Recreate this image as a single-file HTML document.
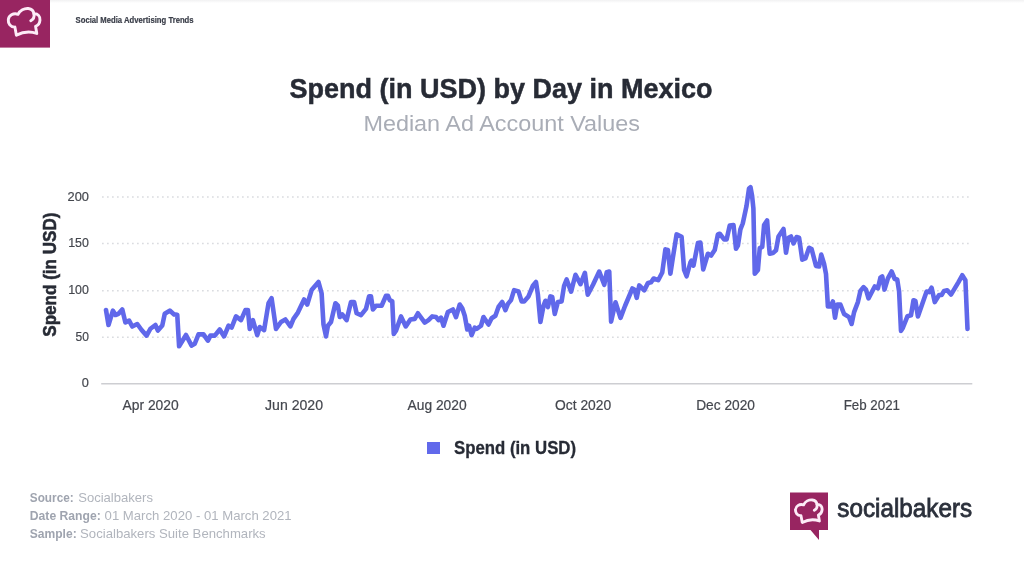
<!DOCTYPE html>
<html lang="en">
<head>
<meta charset="utf-8">
<title>Spend (in USD) by Day in Mexico</title>
<style>
html,body{margin:0;padding:0;background:#fff;}
body{width:1024px;height:576px;overflow:hidden;font-family:"Liberation Sans",sans-serif;}
svg{display:block;}
text{font-family:"Liberation Sans",sans-serif;}
.b{font-weight:bold;}
.ax{font-size:14.1px;fill:#44474e;stroke:#44474e;stroke-width:0.2px;}
.ay{font-size:13.6px;fill:#44474e;stroke:#44474e;stroke-width:0.2px;}
.ft{font-size:12.8px;fill:#b1b5bd;}
.ft .b{fill:#9fa4af;}
</style>
</head>
<body>
<svg width="1024" height="576" viewBox="0 0 1024 576">
<defs>
<linearGradient id="tg" x1="0" y1="0" x2="0" y2="1"><stop offset="0" stop-color="#f1f1f2"/><stop offset="1" stop-color="#ffffff"/></linearGradient>
</defs>
<rect width="1024" height="576" fill="#ffffff"/>
<rect x="50" y="0" width="974" height="3" fill="url(#tg)"/>
<!-- header logo -->
<rect x="0" y="0" width="50" height="47.6" fill="#982561"/>
<g transform="translate(24 22) scale(0.94) translate(-24 -22)"><path d="M15.9 36 L14.3 27.4 C9.5 27.6 7 23.6 7.3 19.6 C7.7 15.2 12.6 12 17.6 13.8 C19.6 9.6 24.4 7.2 28.6 7.6 C32 8 34.2 10.4 34.6 13.2 C38.6 12.8 41.4 16 41 20 C40.7 23.4 38.6 25.8 36.3 26.6 L37.6 34.2 Q27 30.2 15.9 36 Z" fill="none" stroke="#fdebf7" stroke-width="3.1" stroke-linejoin="round" stroke-linecap="round"/>
<path d="M34.6 13.2 C35.2 16.4 33.8 19.2 31.2 20.6" fill="none" stroke="#fdebf7" stroke-width="3.1" stroke-linecap="round"/></g>
<text x="75.6" y="22.9" class="b" font-size="8.2" fill="#3a3e49" stroke="#3a3e49" stroke-width="0.2" textLength="118" lengthAdjust="spacingAndGlyphs">Social Media Advertising Trends</text>
<!-- titles -->
<text x="289.6" y="98.3" class="b" font-size="28.4" fill="#272b35" stroke="#272b35" stroke-width="0.5" textLength="423" lengthAdjust="spacingAndGlyphs">Spend (in USD) by Day in Mexico</text>
<text x="363.4" y="130.75" font-size="22.7" fill="#a9adb6" textLength="276.6" lengthAdjust="spacingAndGlyphs">Median Ad Account Values</text>
<!-- grid -->
<g stroke="#dadce0" stroke-width="1.5" stroke-dasharray="1.7 3.3" fill="none">
<path d="M102 197H969"/><path d="M102 243.5H969"/><path d="M102 290.7H969"/><path d="M102 337.2H969"/>
</g>
<path d="M101.2 383.8H972.3" stroke="#cdced2" stroke-width="1.6" fill="none"/>
<!-- y labels -->
<g class="ay">
<text x="67.5" y="200.6" textLength="21.4" lengthAdjust="spacingAndGlyphs">200</text>
<text x="68.2" y="247.1" textLength="20.7" lengthAdjust="spacingAndGlyphs">150</text>
<text x="68.2" y="294.3" textLength="20.7" lengthAdjust="spacingAndGlyphs">100</text>
<text x="75.5" y="340.8" textLength="13.4" lengthAdjust="spacingAndGlyphs">50</text>
<text x="81.8" y="387.1" textLength="7.1" lengthAdjust="spacingAndGlyphs">0</text>
</g>
<text transform="translate(55.6 336.7) rotate(-90)" class="b" font-size="18.4" fill="#272b35" stroke="#272b35" stroke-width="0.55" textLength="124.2" lengthAdjust="spacingAndGlyphs">Spend (in USD)</text>
<!-- x labels -->
<g class="ax">
<text x="122.5" y="409.5" textLength="56.2" lengthAdjust="spacingAndGlyphs">Apr 2020</text>
<text x="265" y="409.5" textLength="58" lengthAdjust="spacingAndGlyphs">Jun 2020</text>
<text x="407.5" y="409.5" textLength="59.2" lengthAdjust="spacingAndGlyphs">Aug 2020</text>
<text x="555" y="409.5" textLength="56.2" lengthAdjust="spacingAndGlyphs">Oct 2020</text>
<text x="696.2" y="409.5" textLength="58.8" lengthAdjust="spacingAndGlyphs">Dec 2020</text>
<text x="843.7" y="409.5" textLength="56.3" lengthAdjust="spacingAndGlyphs">Feb 2021</text>
</g>
<!-- series -->
<polyline fill="none" stroke="#6068ea" stroke-width="4.6" stroke-linejoin="round" stroke-linecap="round" points="106,310 108.5,325 112.9,310.6 115.4,315 118.5,313.75 122.25,309.4 125.4,322.5 129.1,320.6 132.25,326.5 137.25,324 141.6,330 146.6,335.6 150.4,328.75 155.4,325 157.9,330.6 162.25,325.6 164.75,313.75 169.75,310.6 174.1,314.4 177.25,314.75 179.1,346.25 186,335 191.6,345.6 194.75,343.75 198.5,334.4 203.5,334.4 207.9,340.6 210.4,335.6 214.75,335.6 219.75,329.5 224.1,336.4 228.5,325.75 231.6,327.6 236,316.4 241,320.1 245.4,310.1 247.9,310.1 249.75,328.9 252.9,320.1 257.25,335.1 259.75,327 264.1,330.1 268.5,303.25 271.6,298.25 276,328.9 281,322 285.4,319.5 290.4,326.4 293.5,318.9 297.9,312.6 304.1,299.5 307.25,304.5 311.6,290.1 318.5,282 321.6,293.25 323.5,324.5 326,336.4 327.9,325.75 331,322 335.4,303.25 337.9,305.75 339.75,317 342.25,314.5 346.6,320.1 351,302 354.1,302 356.6,313.25 361,315.1 366,308.9 369.1,296.4 371,296.4 372.9,309.5 376,305.75 381.6,305.75 386,295.75 387.9,295.75 389.75,300.1 392.25,301.4 393.75,333.9 396,330.75 401,316.4 405.75,326.4 410.4,319.5 414.75,318.9 417.9,313.25 424.75,322.6 428.5,320.1 432.25,316.4 436,317 438.5,320.1 441,317.6 443.5,325.75 447.9,312 452.9,309.5 456,317 459.75,304.5 462.25,308.25 464.75,315.75 467.25,329.5 469.1,325.75 471.6,335.1 474.75,327.6 476.6,328.9 481,325.75 483.5,317 488.5,324.5 491.6,318.25 495.4,315.75 498.5,307 502.25,302 505.4,310.1 507.9,303.9 511,300.1 514.1,290.1 518.5,291.4 521.6,301.4 524.1,301.4 528.5,296.4 532.9,285.75 536,282 537.9,294.5 540.4,322 543.5,305.75 545.4,300.75 547.9,307 550.4,296.4 552.25,297 554.75,313.9 557.9,302 561.6,301.4 564.1,285.75 566.6,279.5 571.1,291.6 575.5,274.75 580.5,284.1 584.9,272.9 587.75,294.75 593,284.75 599.25,271.6 604.25,284.75 606.75,272.25 609.25,271.6 611.1,321.6 615.5,302.25 620.5,317.9 625,306 632.4,288.5 634.6,289.75 636.75,297.9 639.25,285.4 644.25,290.4 648,282.9 651.1,282.25 653.6,278.5 658.2,280.2 662.25,272.5 665.4,249.4 667.9,250 670.4,273.75 672.9,257.5 676.6,234.4 681.6,236.9 684.1,270 686.6,276.25 690.4,262.5 691.6,260.6 693.5,265.6 697.9,243.1 700.4,242.5 703.25,269.4 707.9,253.75 711,255.6 714.75,250 717.9,234.4 719.75,233.75 724.1,239.4 726.6,239.4 729.75,225.6 733.5,225 736,248.75 737.9,245.6 740.4,229.4 742.75,223.5 746.5,206 749,188.5 750.5,187.25 752.1,196 753.4,208.5 754.75,273.75 757.9,270 759.75,248.1 762.25,246.9 764.1,225 767.1,220.4 769,246 769.75,253.75 772.9,253.1 776,250.25 778.5,236.5 783.5,229 786,252.75 788.5,237.75 791,236.5 793.5,243.4 796.6,237.1 799.1,237.75 802.25,259.6 805.4,258.4 809.1,247.75 811.6,249 816,265.9 819.1,266.5 821.25,254.6 824.1,264 826,274 827.9,306.5 830.4,306.5 832.9,301.5 835,317.75 837.25,304.6 840.4,304.6 844.1,314 849.1,317.1 851.6,324 854.1,312.1 857.9,302.1 860.4,290.9 863.5,287.1 866,289.6 868.5,298.4 874.75,286.5 877.9,288.4 880.4,277.75 882.25,276.5 884.5,289.6 887.9,278.4 891.6,271.5 894.75,279 897.25,279.6 899.1,291.5 901,330.9 902.9,327.75 907.5,316.2 911,315.25 913.5,300.25 915.4,300.9 917.9,316.5 922.25,304 926.6,291.5 929.1,292.1 931.6,287.75 934.75,302.1 939.1,295 941.6,295 944.1,290.9 947.25,290.25 951,294.6 954.75,288.4 958.5,282.1 962.25,275.25 965.4,280.25 967.5,329"/>
<!-- legend -->
<rect x="427" y="442" width="13" height="12" fill="#6169eb"/>
<text x="454" y="453.7" class="b" font-size="17.7" fill="#272b35" stroke="#272b35" stroke-width="0.3" textLength="122" lengthAdjust="spacingAndGlyphs">Spend (in USD)</text>
<!-- footer -->
<g class="ft">
<text x="29.8" y="501.7" class="b" textLength="43.9" lengthAdjust="spacingAndGlyphs">Source:</text>
<text x="78.2" y="501.7" textLength="74.8" lengthAdjust="spacingAndGlyphs">Socialbakers</text>
<text x="29.8" y="520.3" class="b" textLength="70.9" lengthAdjust="spacingAndGlyphs">Date Range:</text>
<text x="104.6" y="520.3" textLength="187" lengthAdjust="spacingAndGlyphs">01 March 2020 - 01 March 2021</text>
<text x="29.8" y="538" class="b" textLength="46.9" lengthAdjust="spacingAndGlyphs">Sample:</text>
<text x="80.1" y="538" textLength="185.6" lengthAdjust="spacingAndGlyphs">Socialbakers Suite Benchmarks</text>
</g>
<!-- footer logo -->
<path d="M790 492.5H828V530H819V540L810.5 530H790Z" fill="#982561"/>
<g transform="translate(789.7 494) scale(0.79)"><path d="M15.9 36 L14.3 27.4 C9.5 27.6 7 23.6 7.3 19.6 C7.7 15.2 12.6 12 17.6 13.8 C19.6 9.6 24.4 7.2 28.6 7.6 C32 8 34.2 10.4 34.6 13.2 C38.6 12.8 41.4 16 41 20 C40.7 23.4 38.6 25.8 36.3 26.6 L37.6 34.2 Q27 30.2 15.9 36 Z" fill="none" stroke="#fdebf7" stroke-width="3.6" stroke-linejoin="round" stroke-linecap="round"/>
<path d="M34.6 13.2 C35.2 16.4 33.8 19.2 31.2 20.6" fill="none" stroke="#fdebf7" stroke-width="3.6" stroke-linecap="round"/></g>
<text x="837.3" y="517.3" font-size="25.5" fill="#2b303b" stroke="#2b303b" stroke-width="0.8" textLength="134.8" lengthAdjust="spacingAndGlyphs">socialbakers</text>
</svg>
</body>
</html>
